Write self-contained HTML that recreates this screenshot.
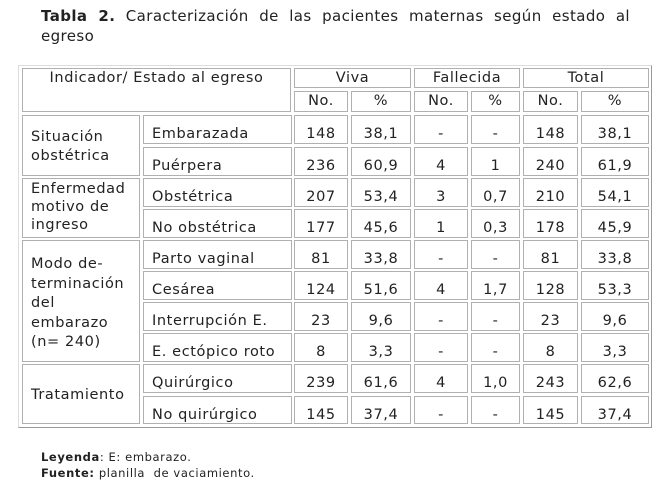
<!DOCTYPE html>
<html><head><meta charset="utf-8"><style>
body{margin:0;width:667px;height:487px;background:#fff;font-family:"DejaVu Sans",Verdana,sans-serif;color:#222;position:relative;overflow:hidden}
.t{position:absolute;left:41px;width:589px;font-size:15px;line-height:20px;color:#222;letter-spacing:0.4px;white-space:nowrap}
.c{position:absolute;border:1px solid #b0b0b0;box-sizing:border-box;font-size:14.5px;line-height:18px;text-align:center;white-space:nowrap;letter-spacing:0.6px}
.l{text-align:left;padding-left:8px}
.leg{position:absolute;left:41px;font-size:11.5px;color:#222;letter-spacing:0.6px}
</style></head><body>
<div class="t" style="top:6px;text-align:justify;text-align-last:justify;white-space:normal"><b>Tabla 2.</b> Caracterización de las pacientes maternas según estado al</div>
<div class="t" style="top:26px">egreso</div>
<div style="position:absolute;left:18px;top:65px;width:634px;height:363px;box-sizing:border-box;border:1px solid #ddd;border-right-color:#999;border-bottom-color:#999"></div>
<div id="g"></div>
<div class="leg" style="top:450px"><b>Leyenda</b>: E: embarazo.</div>
<div class="leg" style="top:466px"><b>Fuente:</b> planilla &nbsp;de vaciamiento.</div>
<script>
var g=document.getElementById('g'),h='';
function c(x1,y1,x2,y2,t,cl,st){h+='<div class="c '+(cl||'')+'" style="left:'+x1+'px;top:'+y1+'px;width:'+(x2-x1)+'px;height:'+(y2-y1)+'px;'+(st||'')+'">'+t+'</div>';}
c(22,68,291,112,'Indicador/ Estado al egreso','', 'padding-top:0px');
c(294,68,411,88,'Viva');c(414,68,520,88,'Fallecida');c(523,68,649,88,'Total');
var X=[[294,348],[351,411],[414,468],[471,520],[523,578],[581,649]];
var hd=['No.','%','No.','%','No.','%'];
for(var i=0;i<6;i++)c(X[i][0],91,X[i][1],112,hd[i]);
var T=[115,147,178,209,240,271,302,333,364,396],B=[144,176,207,238,269,300,331,362,393,424];
var rows=[['Embarazada','148','38,1','-','-','148','38,1'],['Puérpera','236','60,9','4','1','240','61,9'],['Obstétrica','207','53,4','3','0,7','210','54,1'],['No obstétrica','177','45,6','1','0,3','178','45,9'],['Parto vaginal','81','33,8','-','-','81','33,8'],['Cesárea','124','51,6','4','1,7','128','53,3'],['Interrupción E.','23','9,6','-','-','23','9,6'],['E. ectópico roto','8','3,3','-','-','8','3,3'],['Quirúrgico','239','61,6','4','1,0','243','62,6'],['No quirúrgico','145','37,4','-','-','145','37,4']];
for(var r=0;r<10;r++){c(143,T[r],292,B[r],rows[r][0],'l','padding-top:9px');for(var i=0;i<6;i++)c(X[i][0],T[r],X[i][1],B[r],rows[r][i+1],'','padding-top:9px');}
c(22,115,140,176,'Situación<br>obstétrica','l','padding-top:12px;line-height:19px');
c(22,178,140,238,'Enfermedad<br>motivo de<br>ingreso','l','padding-top:1px;line-height:18px');
c(22,240,140,362,'Modo de-<br>terminación<br>del<br>embarazo<br>(n= 240)','l','padding-top:14px;line-height:19.5px');
c(22,364,140,424,'Tratamiento','l','padding-top:21px');
g.innerHTML=h;
</script>
</body></html>
